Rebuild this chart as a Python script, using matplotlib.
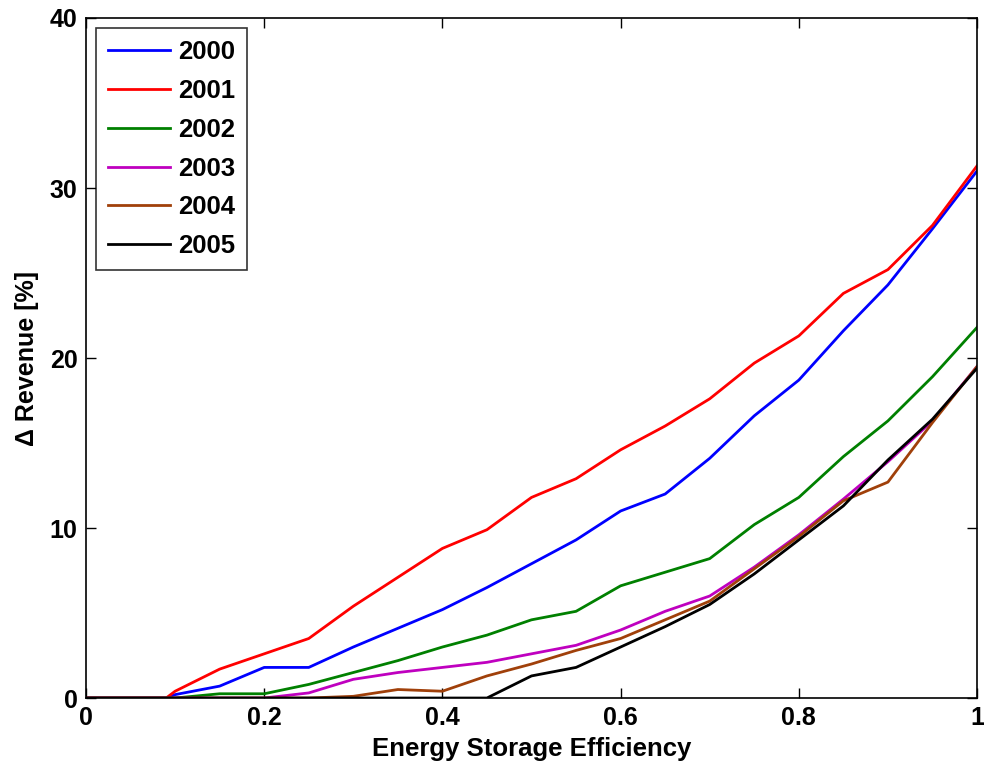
import numpy as np
import matplotlib
matplotlib.use('Agg')
import matplotlib.pyplot as plt

plt.rcParams['font.family'] = ['Liberation Sans', 'DejaVu Sans']
plt.rcParams['font.weight'] = 'bold'

# Données
eff = [0.0, 0.05, 0.09, 0.1, 0.15, 0.2, 0.25, 0.3, 0.35, 0.4, 0.45, 0.5,
       0.55, 0.6, 0.65, 0.7, 0.75, 0.8, 0.85, 0.9, 0.95, 1.0]

rev_2000 = [0, 0, 0, 0.2, 0.7, 1.8, 1.8, 3.0, 4.1, 5.2, 6.5, 7.9,
            9.3, 11.0, 12.0, 14.1, 16.6, 18.7, 21.6, 24.3, 27.6, 31.0]
rev_2001 = [0, 0, 0, 0.4, 1.7, 2.6, 3.5, 5.4, 7.1, 8.8, 9.9, 11.8,
            12.9, 14.6, 16.0, 17.6, 19.7, 21.3, 23.8, 25.2, 27.8, 31.3]
rev_2002 = [0, 0, 0, 0, 0.25, 0.25, 0.8, 1.5, 2.2, 3.0, 3.7, 4.6,
            5.1, 6.6, 7.4, 8.2, 10.2, 11.8, 14.2, 16.3, 18.9, 21.8]
rev_2003 = [0, 0, 0, 0, 0, 0, 0.3, 1.1, 1.5, 1.8, 2.1, 2.6,
            3.1, 4.0, 5.1, 6.0, 7.7, 9.6, 11.7, 13.9, 16.3, 19.5]
rev_2004 = [0, 0, 0, 0, 0, 0, 0, 0.1, 0.5, 0.4, 1.3, 2.0,
            2.8, 3.5, 4.6, 5.7, 7.6, 9.5, 11.6, 12.7, 16.2, 19.5]
rev_2005 = [0, 0, 0, 0, 0, 0, 0, 0, 0, 0, 0, 1.3,
            1.8, 3.0, 4.2, 5.5, 7.3, 9.3, 11.3, 14.0, 16.4, 19.4]

years = ['2000', '2001', '2002', '2003', '2004', '2005']
series = [rev_2000, rev_2001, rev_2002, rev_2003, rev_2004, rev_2005]
colors = ['#0000ff', '#ff0000', '#008000', '#bf00bf', '#a0400a', '#000000']

fig = plt.figure(figsize=(9.84, 7.69), dpi=100)
ax = fig.add_axes([0.0874, 0.0923, 0.9055, 0.8843])

for vals, yr, c in zip(series, years, colors):
    ax.plot(eff, vals, color=c, linewidth=2, label=yr)

ax.set_xlim(0, 1)
ax.set_ylim(0, 40)
ax.set_xticks([0, 0.2, 0.4, 0.6, 0.8, 1])
ax.set_xticklabels(['0', '0.2', '0.4', '0.6', '0.8', '1'])
ax.set_yticks([0, 10, 20, 30, 40])
ax.tick_params(direction='in', top=True, right=True, labelsize=18, length=7,
               width=1, pad=6)
for sp in ax.spines.values():
    sp.set_linewidth(1.2)

ax.set_xlabel('Energy Storage Efficiency', fontsize=18.5, fontweight='bold', labelpad=5)
ax.set_ylabel('Δ Revenue [%]', fontsize=18, fontweight='bold', labelpad=8)

leg = ax.legend(loc='upper left', fontsize=18.5, frameon=True, fancybox=False,
                edgecolor='black', handlelength=2.4, handletextpad=0.35,
                labelspacing=0.58, borderpad=0.45, borderaxespad=0.4)
leg.get_frame().set_linewidth(1.2)

plt.savefig('out.png', dpi=100)
